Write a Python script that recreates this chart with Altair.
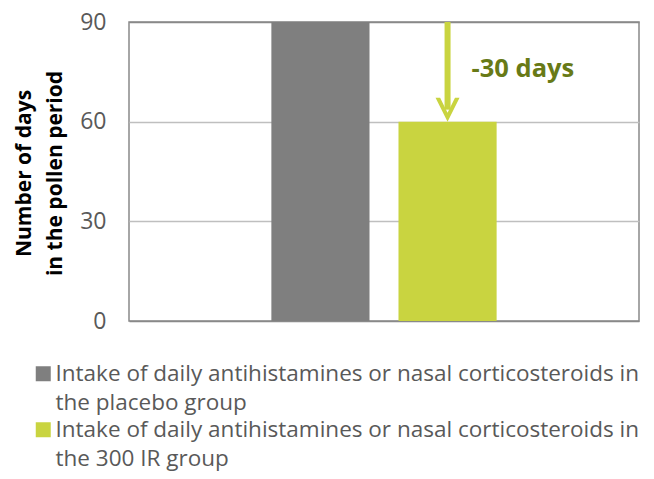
import altair as alt
import pandas as pd

# ---- data ----
groups = [
    "Intake of daily antihistamines or nasal corticosteroids in\nthe placebo group",
    "Intake of daily antihistamines or nasal corticosteroids in\nthe 300 IR group",
]
days = [90, 60]
bar_colors = ["#7f7f7f", "#c9d440"]
y_ticks = [0, 30, 60, 90]
arrow_from = 90
arrow_to = 60
annotation_text = "-30 days"
annotation_y = 73.5

# empty slots on each side of the two bars (as in the source's wide category gap)
x_slots = ["_left"] + groups + ["_right"]

bars_df = pd.DataFrame({"group": groups, "days": days})
arrow_df = pd.DataFrame({"group": [groups[1]], "start": [arrow_from], "end": [arrow_to]})
label_df = pd.DataFrame({"group": [groups[1]], "y": [annotation_y], "text": [annotation_text]})

x_enc = alt.X(
    "group:N",
    scale=alt.Scale(domain=x_slots, paddingInner=0.228, paddingOuter=0.12),
    axis=None,
)

bars = alt.Chart(bars_df).mark_bar().encode(
    x=x_enc,
    y=alt.Y(
        "days:Q",
        scale=alt.Scale(domain=[0, 90], nice=False),
        axis=alt.Axis(
            values=y_ticks,
            title=["Number of days", "in the pollen period"],
            titleFont="Open Sans",
            titleFontSize=21,
            titleFontWeight="bold",
            titleColor="#000000",
            titleAngle=270,
            titleAlign="center",
            titleBaseline="top",
            titleX=-116,
            titleY=151,
            titleLineHeight=31,
            labelFont="Open Sans",
            labelFontSize=23,
            labelColor="#595959",
            labelPadding=23,
            ticks=False,
            domain=False,
            grid=True,
            gridColor={
                "condition": {"test": "datum.value === 0 || datum.value === 90", "value": "#898989"},
                "value": "#bfbfbf",
            },
            gridWidth=1.5,
        ),
    ),
    color=alt.Color(
        "group:N",
        scale=alt.Scale(domain=groups, range=bar_colors),
        legend=alt.Legend(
            title=None,
            orient="none",
            legendX=-97,
            legendY=348,
            direction="vertical",
            symbolType="M-1,-2H1V0H-1Z",
            symbolSize=225,
            symbolStrokeWidth=0,
            symbolOpacity=1,
            labelExpr="split(datum.label, '\\n')",
            labelFont="Open Sans",
            labelFontSize=22.5,
            labelColor="#595959",
            labelBaseline="alphabetic",
            labelLimit=700,
            labelOffset=1,
            rowPadding=4,
            padding=0,
        ),
    ),
)

shaft = alt.Chart(arrow_df).mark_rule(
    color="#c9d440", strokeWidth=6, y2Offset=-12
).encode(
    x=x_enc,
    y=alt.Y("start:Q"),
    y2="end:Q",
)

head = alt.Chart(arrow_df).mark_point(
    shape="M0,0L1,-2L0.62,-2L0,-0.75L-0.62,-2L-1,-2Z",
    size=576,
    filled=True,
    opacity=1,
    color="#c9d440",
    strokeWidth=0,
).encode(
    x=x_enc,
    y=alt.Y("end:Q"),
)

label = alt.Chart(label_df).mark_text(
    align="left",
    baseline="alphabetic",
    dx=24,
    font="Open Sans",
    fontSize=25.5,
    fontWeight="bold",
    color="#687a17",
).encode(
    x=x_enc,
    y=alt.Y("y:Q"),
    text="text:N",
)

chart = (
    alt.layer(bars, shaft, head, label)
    .properties(
        width=510,
        height=299,
        autosize=alt.AutoSizeParams(type="none"),
        padding={"left": 121, "top": 14, "right": 7, "bottom": 150},
    )
    .configure(style={"guide-label": {"lineHeight": 29}})
    .configure_view(stroke="#898989", strokeWidth=1.5)
)

chart.save("out.html", embed_options={"renderer": "svg", "actions": False})
